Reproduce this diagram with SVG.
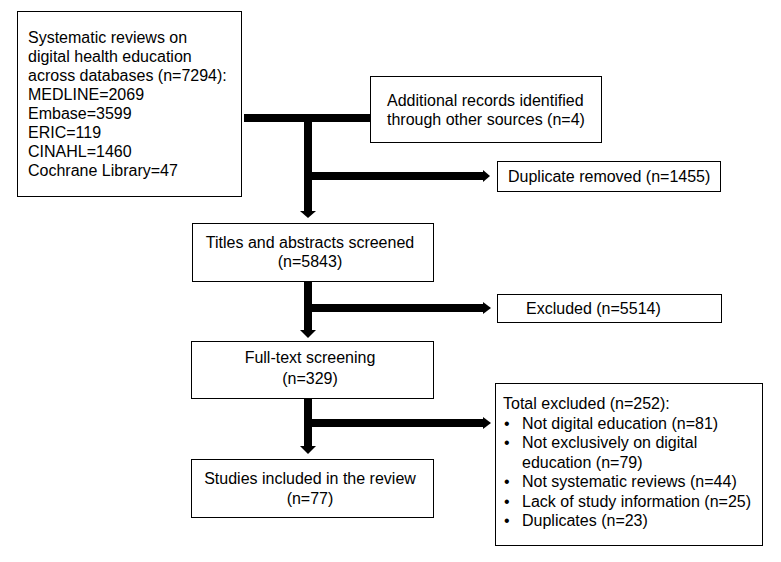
<svg xmlns="http://www.w3.org/2000/svg" width="781" height="562" viewBox="0 0 781 562">
<style>
.box{fill:#fff;stroke:#000;stroke-width:1}
text{font-family:"Liberation Sans",Arial,sans-serif;font-size:16px;fill:#000}
.c{text-anchor:middle}
.ln{stroke:#000;stroke-width:8;fill:none}
.hd{fill:#000}
</style>
<rect width="781" height="562" fill="#fff"/>
<g id="connectors">
<line class="ln" x1="244" y1="118" x2="370" y2="118"/>
<line class="ln" x1="308" y1="114" x2="308" y2="212"/>
<polygon class="hd" points="300,211 316,211 308,218"/>
<line class="ln" x1="308" y1="176" x2="484" y2="176"/>
<polygon class="hd" points="483,170 483,182 490,176"/>
<line class="ln" x1="308" y1="281" x2="308" y2="331"/>
<polygon class="hd" points="300,330 316,330 308,338"/>
<line class="ln" x1="308" y1="308" x2="484" y2="308"/>
<polygon class="hd" points="483,302 483,314 491,308"/>
<line class="ln" x1="308" y1="398" x2="308" y2="447"/>
<polygon class="hd" points="300,446 316,446 308,454"/>
<line class="ln" x1="308" y1="423" x2="484" y2="423"/>
<polygon class="hd" points="483,417 483,429 491,423"/>
</g>
<g id="n1">
<rect class="box" x="17.5" y="11.5" width="224" height="185"/>
<text x="28" y="43">Systematic reviews on</text>
<text x="28" y="62">digital health education</text>
<text x="28" y="81">across databases (n=7294):</text>
<text x="28" y="100">MEDLINE=2069</text>
<text x="28" y="119">Embase=3599</text>
<text x="28" y="138">ERIC=119</text>
<text x="28" y="157">CINAHL=1460</text>
<text x="28" y="176">Cochrane Library=47</text>
</g>
<g id="n2">
<rect class="box" x="370.5" y="76.5" width="231" height="66"/>
<text x="387" y="106">Additional records identified</text>
<text x="387" y="125">through other sources (n=4)</text>
</g>
<g id="n3">
<rect class="box" x="497.5" y="161.5" width="223" height="30"/>
<text x="508" y="182">Duplicate removed (n=1455)</text>
</g>
<g id="n4">
<rect class="box" x="192.5" y="223.5" width="241" height="58"/>
<text class="c" x="310" y="248">Titles and abstracts screened</text>
<text class="c" x="310" y="267">(n=5843)</text>
</g>
<g id="n5">
<rect class="box" x="497.5" y="294.5" width="224" height="28"/>
<text x="526" y="314">Excluded (n=5514)</text>
</g>
<g id="n6">
<rect class="box" x="191.5" y="341.5" width="242" height="57"/>
<text class="c" x="310" y="363">Full-text screening</text>
<text class="c" x="310" y="384">(n=329)</text>
</g>
<g id="n7">
<rect class="box" x="191.5" y="459.5" width="242" height="58"/>
<text class="c" x="310" y="484">Studies included in the review</text>
<text class="c" x="310" y="504">(n=77)</text>
</g>
<g id="n8">
<rect class="box" x="495.5" y="383.5" width="267" height="162"/>
<text x="503" y="409">Total excluded (n=252):</text>
<text x="504" y="429">•</text><text x="522" y="429">Not digital education (n=81)</text>
<text x="504" y="448">•</text><text x="522" y="448">Not exclusively on digital</text>
<text x="522" y="468">education (n=79)</text>
<text x="504" y="487">•</text><text x="522" y="487">Not systematic reviews (n=44)</text>
<text x="504" y="507">•</text><text x="522" y="507">Lack of study information (n=25)</text>
<text x="504" y="526">•</text><text x="522" y="526">Duplicates (n=23)</text>
</g>
</svg>
